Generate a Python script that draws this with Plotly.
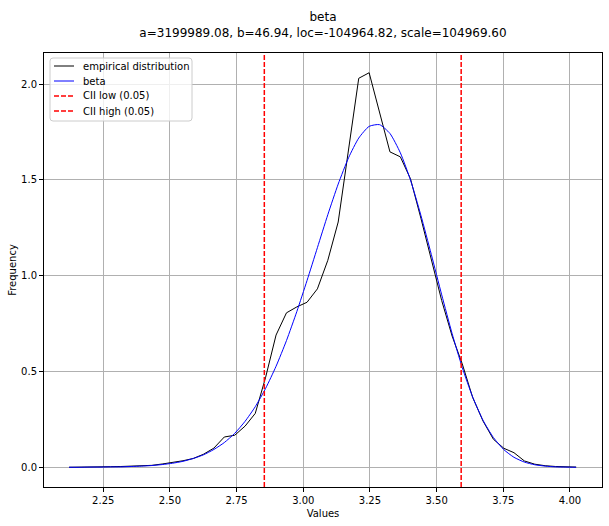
import plotly.graph_objects as go

# bin centres (Values)
values = [
    2.122, 2.161, 2.200, 2.238, 2.277, 2.316, 2.355, 2.394, 2.432, 2.471,
    2.510, 2.549, 2.588, 2.626, 2.665, 2.704, 2.743, 2.782, 2.820, 2.859,
    2.898, 2.937, 2.976, 3.014, 3.053, 3.092, 3.131, 3.170, 3.208, 3.247,
    3.286, 3.325, 3.364, 3.402, 3.441, 3.480, 3.519, 3.558, 3.596, 3.635,
    3.674, 3.713, 3.752, 3.790, 3.829, 3.868, 3.907, 3.946, 3.984, 4.023,
]

# empirical density (black line)
empirical = [
    0.000, 0.000, 0.001, 0.002, 0.003, 0.004, 0.005, 0.007, 0.010, 0.017,
    0.024, 0.034, 0.046, 0.068, 0.100, 0.158, 0.167, 0.215, 0.281, 0.470,
    0.690, 0.806, 0.837, 0.861, 0.931, 1.080, 1.280, 1.650, 2.030, 2.059,
    1.859, 1.646, 1.620, 1.505, 1.300, 1.085, 0.870, 0.685, 0.540, 0.365,
    0.241, 0.146, 0.099, 0.076, 0.033, 0.016, 0.008, 0.004, 0.002, 0.001,
]

# fitted beta pdf (blue line)
beta_pdf = [
    0.000, 0.000, 0.001, 0.001, 0.002, 0.002, 0.004, 0.006, 0.009, 0.014,
    0.021, 0.031, 0.046, 0.065, 0.093, 0.129, 0.177, 0.240, 0.316, 0.412,
    0.527, 0.661, 0.813, 0.974, 1.146, 1.318, 1.478, 1.616, 1.718, 1.779,
    1.788, 1.742, 1.641, 1.499, 1.315, 1.111, 0.900, 0.698, 0.521, 0.367,
    0.245, 0.155, 0.092, 0.052, 0.027, 0.013, 0.006, 0.002, 0.001, 0.000,
]

cii_low = 2.854
cii_high = 3.592

x_ticks = [2.25, 2.50, 2.75, 3.00, 3.25, 3.50, 3.75, 4.00]
y_ticks = [0.0, 0.5, 1.0, 1.5, 2.0]

legend_labels = ["empirical distribution", "beta", "CII low (0.05)", "CII high (0.05)"]
legend_colors = ["black", "blue", "red", "red"]
legend_dashes = ["solid", "solid", "5px,2px", "5px,2px"]

title = "beta<br>a=3199989.08, b=46.94, loc=-104964.82, scale=104969.60"

W, H = 609, 526
M = dict(l=44, r=7, t=53, b=39)
plot_w = W - M["l"] - M["r"]
plot_h = H - M["t"] - M["b"]


def px_x(px):
    # page pixel -> paper x
    return (px - M["l"]) / plot_w


def px_y(py):
    # page pixel -> paper y
    return (H - M["b"] - py) / plot_h


fig = go.Figure()

fig.add_trace(go.Scatter(
    x=values, y=empirical, mode="lines", name="empirical distribution",
    line=dict(color="black", width=1), showlegend=False,
))
fig.add_trace(go.Scatter(
    x=values, y=beta_pdf, mode="lines", name="beta",
    line=dict(color="blue", width=1, shape="spline", smoothing=0.6),
    showlegend=False,
))

# CII bounds
fig.add_vline(x=cii_low, line=dict(color="red", width=1.5, dash="5px,2px"), layer="above")
fig.add_vline(x=cii_high, line=dict(color="red", width=1.5, dash="5px,2px"), layer="above")

# legend box drawn matplotlib-style (rounded frame, compact rows)
bx0, bx1, by0, by1, rad = 50, 192, 58, 121, 3
path = (
    f"M {px_x(bx0 + rad)},{px_y(by0)} L {px_x(bx1 - rad)},{px_y(by0)} "
    f"Q {px_x(bx1)},{px_y(by0)} {px_x(bx1)},{px_y(by0 + rad)} "
    f"L {px_x(bx1)},{px_y(by1 - rad)} "
    f"Q {px_x(bx1)},{px_y(by1)} {px_x(bx1 - rad)},{px_y(by1)} "
    f"L {px_x(bx0 + rad)},{px_y(by1)} "
    f"Q {px_x(bx0)},{px_y(by1)} {px_x(bx0)},{px_y(by1 - rad)} "
    f"L {px_x(bx0)},{px_y(by0 + rad)} "
    f"Q {px_x(bx0)},{px_y(by0)} {px_x(bx0 + rad)},{px_y(by0)} Z"
)
fig.add_shape(type="path", path=path, xref="paper", yref="paper",
              fillcolor="rgba(255,255,255,0.8)", line=dict(color="#cccccc", width=1),
              layer="above")

for i, (lab, col, dash) in enumerate(zip(legend_labels, legend_colors, legend_dashes)):
    ry = 66 + i * 15
    fig.add_shape(type="line", xref="paper", yref="paper",
                  x0=px_x(54), x1=px_x(74), y0=px_y(ry), y1=px_y(ry),
                  line=dict(color=col, width=1.5 if col == "red" else 1, dash=dash),
                  layer="above")
    fig.add_annotation(text=lab, xref="paper", yref="paper",
                       x=px_x(81), y=px_y(ry), xanchor="left", yanchor="middle",
                       showarrow=False,
                       font=dict(family="DejaVu Sans", size=10, color="black"))

axis_common = dict(
    showgrid=True, gridcolor="#b0b0b0", gridwidth=1,
    showline=True, linecolor="black", linewidth=1, mirror=True,
    ticks="outside", ticklen=4, tickcolor="black",
    zeroline=False,
    tickfont=dict(family="DejaVu Sans", size=10, color="black"),
)

fig.update_xaxes(
    range=[2.028, 4.120], tickvals=x_ticks,
    ticktext=[f"{t:.2f}" for t in x_ticks],
    title=dict(text="Values", font=dict(family="DejaVu Sans", size=10, color="black"),
               standoff=4),
    **axis_common,
)
fig.update_yaxes(
    range=[-0.103, 2.162], tickvals=y_ticks,
    ticktext=[f"{t:.1f}" for t in y_ticks],
    title=dict(text="Frequency", font=dict(family="DejaVu Sans", size=10, color="black"),
               standoff=2),
    **axis_common,
)

fig.update_layout(
    width=W, height=H,
    margin=M,
    paper_bgcolor="white", plot_bgcolor="white",
    font=dict(family="DejaVu Sans", size=10, color="black"),
    title=dict(text=title, x=0.5, xref="paper", y=0.96, yref="container",
               yanchor="top", font=dict(family="DejaVu Sans", size=12, color="black")),
    showlegend=False,
)

# page body has a default 8px margin; drop it so the figure sits at the origin
fig.write_html("out.html", config={"displayModeBar": False},
               post_script="document.body.style.margin='0';")
